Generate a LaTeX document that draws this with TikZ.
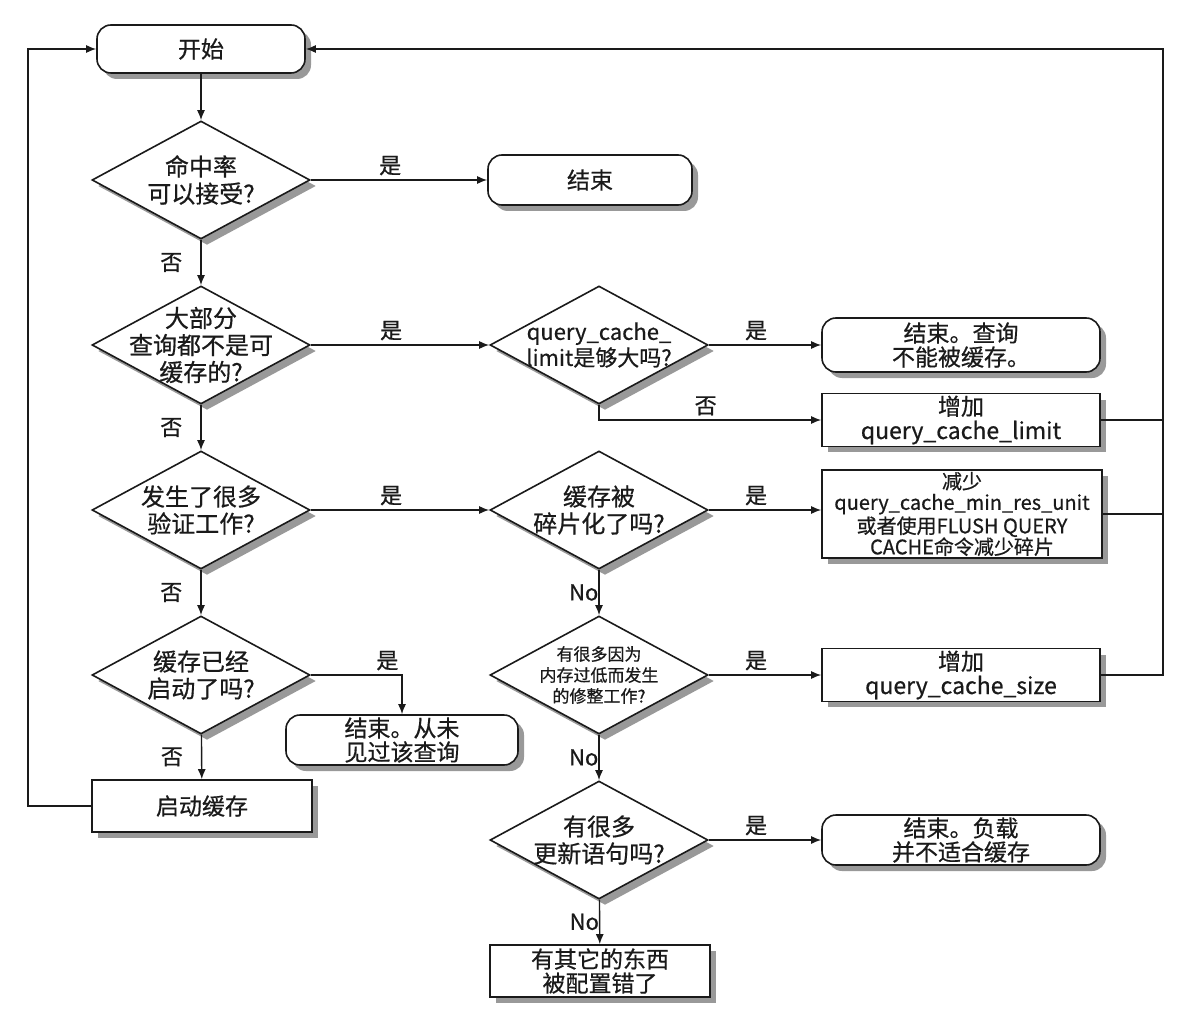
\documentclass[tikz,border=0pt]{standalone}
\usepackage{fontspec}
\newfontfamily\cjk[FakeBold=0.6]{Noto Sans CJK SC}
\usetikzlibrary{arrows.meta,shapes.geometric}
\definecolor{tinta}{HTML}{1A1A1A}
\definecolor{sombra}{HTML}{999999}
\tikzset{
  base/.style={draw=tinta,line width=0.8pt,fill=white,align=center,text=tinta,
    font=\cjk\fontsize{11.5}{12}\selectfont,inner sep=1pt,
    preaction={draw=none,fill=sombra,transform canvas={xshift=3pt,yshift=-3pt}}},
  endbox/.style={base,rectangle,rounded corners=7pt,minimum width=139pt,minimum height=26pt},
  actbox/.style={base,rectangle,minimum width=139pt,minimum height=25pt},
  ask/.style={base,diamond,aspect=1.85,minimum width=109pt,minimum height=59pt,inner sep=-10pt,
    font=\cjk\fontsize{12}{13.5}\selectfont},
  lab/.style={font=\cjk\fontsize{11}{12}\selectfont,text=tinta,inner sep=2pt},
  link/.style={draw=tinta,line width=0.7pt,-{Latex[length=5pt,width=4pt]}},
}
\begin{document}
\begin{tikzpicture}[x=0.5pt,y=-0.5pt]
    \useasboundingbox (0,0) rectangle (1202,1026);
    \coordinate (lft) at (28,0);
    \coordinate (rgt) at (1163,0);
    % --- columna izquierda ---
    \node[endbox,minimum width=104pt,minimum height=24pt] (start) at (201,49) {开始};
    \node[ask] (hit) at (201,180) {命中率\\可以接受?};
    \node[ask] (most) at (201,345) {大部分\\查询都不是可\\缓存的?};
    \node[ask] (valid) at (201,510) {发生了很多\\验证工作?};
    \node[ask] (started) at (201,675) {缓存已经\\启动了吗?};
    \node[actbox,minimum width=110pt,minimum height=26pt] (startc) at (202,806) {启动缓存};
    \node[endbox,minimum width=116pt,minimum height=25pt] (never) at (402,740) {结束。从未\\见过该查询};
    % --- columna central ---
    \node[endbox,minimum width=102pt,minimum height=25pt] (endA) at (590,180) {结束};
    \node[ask,font=\cjk\fontsize{11}{13}\selectfont] (qlim) at (599,345) {query\_cache\_\\limit是够大吗?};
    \node[ask] (frag) at (599,510) {缓存被\\碎片化了吗?};
    \node[ask,font=\cjk\fontsize{8.5}{10.5}\selectfont] (trim) at (599,675) {有很多因为\\内存过低而发生\\的修整工作?};
    \node[ask] (upd) at (599,840) {有很多\\更新语句吗?};
    \node[actbox,minimum width=110pt,minimum height=26pt] (misc) at (600,971) {有其它的东西\\被配置错了};
    % --- columna derecha ---
    \node[endbox,minimum height=27pt] (endB) at (961,345) {结束。查询\\不能被缓存。};
    \node[actbox] (inclim) at (961,420) {增加\\query\_cache\_limit};
    \node[actbox,minimum width=140pt,minimum height=43.5pt,font=\cjk\fontsize{10}{10.5}\selectfont]
          (decunit) at (962,514) {减少\\query\_cache\_min\_res\_unit\\或者使用FLUSH QUERY\\CACHE命令减少碎片};
    \node[actbox] (incsize) at (961,675) {增加\\query\_cache\_size};
    \node[endbox,minimum height=25pt] (endD) at (961,840) {结束。负载\\并不适合缓存};
    % --- conectores izquierda ---
    \draw[link] (start) -- (hit);
    \draw[link] (hit) -- node[lab,above,pos=.45]{是} (endA);
    \draw[link] (hit) -- node[lab,left=7pt]{否} (most);
    \draw[link] (most) -- node[lab,above,pos=.45]{是} (qlim);
    \draw[link] (most) -- node[lab,left=7pt]{否} (valid);
    \draw[link] (valid) -- node[lab,above,pos=.45]{是} (frag);
    \draw[link] (valid) -- node[lab,left=7pt]{否} (started);
    \draw[link] (started.east) -| node[lab,above,pos=.42]{是} (never.north);
    \draw[link] (started) -- node[lab,left=7pt]{否} (startc);
    \draw[link] (startc.west) -- (startc.west -| lft) |- (start.west);
    % --- conectores centro ---
    \draw[link] (qlim) -- node[lab,above,pos=.42]{是} (endB);
    \draw[link] (qlim.south) |- node[lab,above,pos=.74]{否} (inclim.west);
    \draw[link] (frag.east) -- node[lab,above,pos=.42]{是} (frag -| decunit.west);
    \draw[link] (frag) -- node[lab,left,inner sep=0pt]{No} (trim);
    \draw[link] (trim) -- node[lab,above,pos=.42]{是} (incsize);
    \draw[link] (trim) -- node[lab,left,inner sep=0pt]{No} (upd);
    \draw[link] (upd) -- node[lab,above,pos=.42]{是} (endD);
    \draw[link] (upd) -- node[lab,left,inner sep=0pt]{No} (misc);
    % --- retorno derecha ---
    \draw[link] (incsize.east) -- (incsize.east -| rgt) |- (start.east);
    \draw[tinta,line width=0.7pt] (inclim.east) -- (inclim.east -| rgt);
    \draw[tinta,line width=0.7pt] (decunit.east) -- (decunit.east -| rgt);
\end{tikzpicture}
\end{document}
